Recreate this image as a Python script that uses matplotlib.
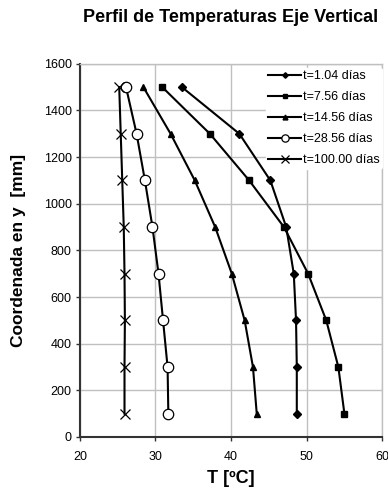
import numpy as np
import matplotlib.pyplot as plt

plt.rcParams['font.family'] = ['Liberation Sans', 'DejaVu Sans']

# Alturas (mm) y temperaturas (ºC)
y_mm = [100, 300, 500, 700, 900, 1100, 1300, 1500]
t_1_04 = [48.7, 48.7, 48.6, 48.3, 47.3, 45.2, 41.1, 33.5]
t_7_56 = [55.0, 54.2, 52.6, 50.2, 47.0, 42.4, 37.2, 30.9]
t_14_56 = [43.4, 42.9, 41.8, 40.1, 37.9, 35.2, 32.0, 28.4]
t_28_56 = [31.7, 31.6, 31.0, 30.4, 29.6, 28.6, 27.5, 26.1]
t_100 = [25.9, 25.9, 25.95, 25.9, 25.8, 25.6, 25.4, 25.2]

labels = ["t=1.04 días", "t=7.56 días", "t=14.56 días", "t=28.56 días", "t=100.00 días"]
x_ticks = [20, 30, 40, 50, 60]
y_ticks = [0, 200, 400, 600, 800, 1000, 1200, 1400, 1600]

fig = plt.figure(figsize=(3.88, 4.91), dpi=100)
ax = fig.add_axes([0.206, 0.110, 0.779, 0.760])

series = [t_1_04, t_7_56, t_14_56, t_28_56, t_100]
styles = [
    dict(marker='D', ms=4, mfc='black'),
    dict(marker='s', ms=4.5, mfc='black'),
    dict(marker='^', ms=5, mfc='black'),
    dict(marker='o', ms=7.5, mfc='white', mew=0.9),
    dict(marker='x', ms=7.5, mew=0.9),
]
for temps, lab, st in zip(series, labels, styles):
    ax.plot(temps, y_mm, color='black', lw=1.5, label=lab, mec='black', **st)

ax.set_xlim(20, 60)
ax.set_ylim(0, 1600)
ax.set_xticks(x_ticks)
ax.set_yticks(y_ticks)
ax.grid(True, color='#c0c0c0', lw=1.0)
ax.set_axisbelow(True)
for s in ['top', 'right']:
    ax.spines[s].set_color('#c0c0c0')
    ax.spines[s].set_linewidth(1.0)
for s in ['left', 'bottom']:
    ax.spines[s].set_color('#333333')
    ax.spines[s].set_linewidth(1.5)
ax.tick_params(labelsize=9, length=3, width=1, color='#333333', pad=3)
ax.tick_params(axis='x', pad=7)

ax.set_title("Perfil de Temperaturas Eje Vertical", fontsize=13, fontweight='bold', pad=30)
ax.set_xlabel("T [ºC]", fontsize=13, fontweight='bold', labelpad=5)
ax.set_ylabel("Coordenada en y  [mm]", fontsize=12.5, fontweight='bold', labelpad=13)

leg = ax.legend(loc='upper left', bbox_to_anchor=(0.615, 0.99), fontsize=9,
                frameon=True, facecolor='white', edgecolor='white', framealpha=1,
                handlelength=2.6, handletextpad=0.15, labelspacing=0.72,
                borderpad=0.2, borderaxespad=0.0, markerscale=0.7)

plt.savefig("out.png", dpi=100, facecolor='white')
